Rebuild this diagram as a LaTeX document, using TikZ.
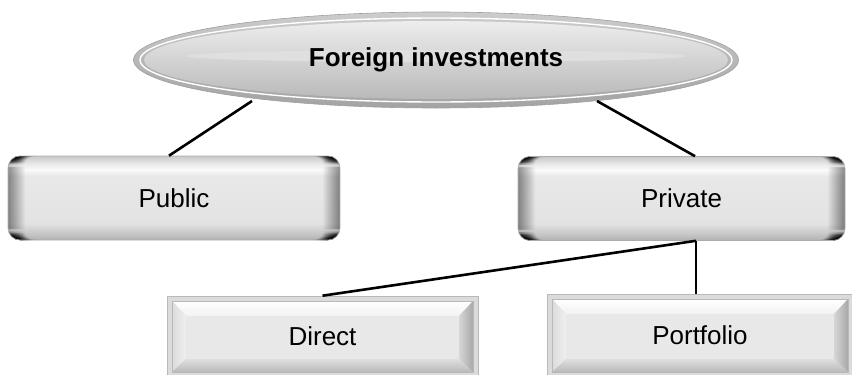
\documentclass[tikz,border=0pt]{standalone}
\usepackage{fontspec}
\setmainfont{Liberation Sans}
\usetikzlibrary{shapes.geometric,shadings}

\pgfdeclareverticalshading{rbvert}{100bp}{%
  color(0bp)=(gray!62); color(25bp)=(gray!62); color(28bp)=(gray!48);
  color(35bp)=(gray!22); color(63bp)=(gray!18); color(67bp)=(gray!4);
  color(70.5bp)=(gray!17); color(73bp)=(gray!32); color(75bp)=(gray!42);
  color(100bp)=(gray!42)}

\tikzset{
  conn/.style={line width=2.6pt, black},
  txt/.style={font=\fontsize{26}{30}\selectfont},
  topnode/.style={ellipse, minimum width=605pt, minimum height=96pt, inner sep=0pt,
    draw=gray!75, line width=0.6pt, top color=gray!40, bottom color=gray!72,
    font=\bfseries\fontsize{26}{30}\selectfont,
    path picture={
      \draw[white, line width=1.4pt] (path picture bounding box.center) ellipse [x radius=296pt, y radius=42pt];
      \shade[top color=gray!14, middle color=gray!22, bottom color=gray!55]
        (path picture bounding box.center) ellipse [x radius=292pt, y radius=39pt];
      \shade[top color=gray!14, bottom color=white, opacity=0.3]
        ([yshift=4pt]path picture bounding box.center) ellipse [x radius=250pt, y radius=6pt];
    }},
  rbox/.style={rectangle, rounded corners=12pt, minimum height=84pt,
    inner sep=0pt, draw=gray!65, line width=0.6pt, shading=rbvert,
    txt,
    path picture={
      \foreach \i [evaluate=\i as \op using 0.4*(1-\i/17)] in {0,...,16}{
        \fill[black, opacity=\op]
          ([xshift=\i pt]path picture bounding box.north west) rectangle
          ([xshift=\i pt+1pt]path picture bounding box.south west);
        \fill[black, opacity=\op]
          ([xshift=-\i pt]path picture bounding box.north east) rectangle
          ([xshift=-\i pt-1pt]path picture bounding box.south east);
      }
    }},
  bbox/.style={rectangle, inner sep=0pt, draw=gray!55, line width=0.6pt, fill=gray!28, txt,
    path picture={
      \coordinate (a1) at ([xshift=5pt,yshift=-5pt]path picture bounding box.north west);
      \coordinate (a2) at ([xshift=-5pt,yshift=-5pt]path picture bounding box.north east);
      \coordinate (a3) at ([xshift=-5pt,yshift=5pt]path picture bounding box.south east);
      \coordinate (a4) at ([xshift=5pt,yshift=5pt]path picture bounding box.south west);
      \coordinate (b1) at ([xshift=19pt,yshift=-20pt]path picture bounding box.north west);
      \coordinate (b2) at ([xshift=-19pt,yshift=-20pt]path picture bounding box.north east);
      \coordinate (b3) at ([xshift=-19pt,yshift=18pt]path picture bounding box.south east);
      \coordinate (b4) at ([xshift=19pt,yshift=18pt]path picture bounding box.south west);
      \shade[top color=white, bottom color=gray!10] (a1) -- (a2) -- (b2) -- (b1) -- cycle;
      \shade[left color=gray!28, right color=gray!12] (a1) -- (b1) -- (b4) -- (a4) -- cycle;
      \shade[left color=gray!32, right color=gray!68] (a2) -- (a3) -- (b3) -- (b2) -- cycle;
      \shade[top color=gray!25, bottom color=gray!55] (a4) -- (b4) -- (b3) -- (a3) -- cycle;
      \fill[gray!18] (b1) rectangle (b3);
      \draw[gray!55, line width=0.6pt] (a1) rectangle (a3);
    }}
}

\begin{document}
\begin{tikzpicture}[x=1pt, y=-1pt]
  \useasboundingbox (0,0) rectangle (852,375);
  \clip (0,0) rectangle (852,375);

  \node[topnode] (fi) at (436,60) {Foreign investments};

  \node[rbox, minimum width=332pt] (pub) at (174,198) {Public};
  \node[rbox, minimum width=327pt] (prv) at (681.5,198.5) {Private};

  \node[bbox, minimum width=311pt, minimum height=81pt] (dir) at (322.5,336.5) {Direct};
  \node[bbox, minimum width=306pt, minimum height=83pt] (por) at (700,335.5) {Portfolio};

  \draw[conn] ([xshift=-184pt,yshift=-41pt]fi.center) -- ([xshift=-5pt]pub.north);
  \draw[conn] ([xshift=161pt,yshift=-41pt]fi.center) -- ([xshift=13.5pt]prv.north);
  \coordinate (j) at ([xshift=14.5pt]prv.south);
  \draw[conn] (j) -- (dir.north);
  \draw[conn] (j) -- (j |- por.north);
\end{tikzpicture}
\end{document}
